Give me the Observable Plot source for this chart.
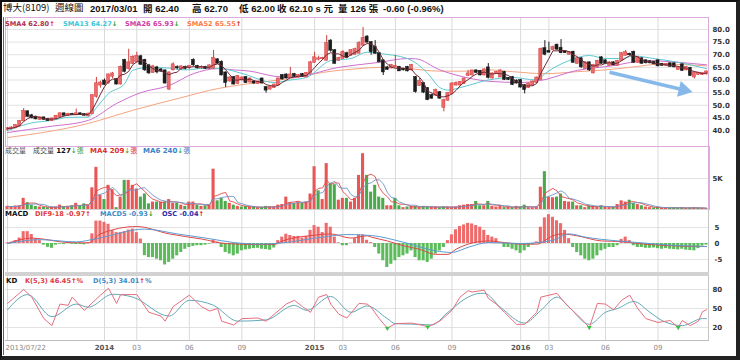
<!DOCTYPE html>
<html><head><meta charset="utf-8">
<script src="https://cdn.jsdelivr.net/npm/d3@7"></script>
<script src="https://cdn.jsdelivr.net/npm/@observablehq/plot@0.6"></script>
<style>
html,body{margin:0;padding:0;background:#fff;}
#wrap{position:relative;width:740px;height:360px;overflow:hidden;background:#fff;font-family:"DejaVu Sans","Noto Sans CJK TC",sans-serif;}
.t{position:absolute;white-space:nowrap;line-height:1;}
.b{position:absolute;box-sizing:border-box;}
</style></head><body><div id="wrap"></div><script>
// ---------- data (weekly, index 0 = 2013/07/22) ----------
const open = [40.3,40.8,41.0,41.8,43.8,47.4,45.8,45.2,44.4,45.0,
44.4,43.9,44.6,45.4,46.6,46.0,46.4,46.2,46.6,46.3,
45.8,46.6,53.5,58.0,59.6,58.8,61.5,60.2,58.4,67.8,
64.5,66.6,67.2,69.2,67.8,65.6,63.0,64.8,64.0,63.6,
56.4,64.0,65.0,64.4,65.0,64.8,67.8,65.4,64.8,65.0,
64.6,64.6,68.0,67.0,62.8,59.6,61.0,58.6,60.0,61.0,
59.2,59.2,58.6,60.4,57.0,56.4,57.0,58.0,61.8,62.0,
61.0,62.2,61.2,62.2,61.2,62.6,67.0,68.2,68.4,67.8,
75.4,71.6,67.8,68.6,70.4,69.8,70.2,70.6,73.8,77.0,
74.8,73.0,70.4,67.6,64.8,64.8,65.2,65.0,64.2,65.0,
64.0,61.0,57.8,58.6,56.6,53.8,54.0,55.0,49.2,52.0,
54.6,58.0,58.0,58.6,61.8,62.0,63.6,63.4,62.0,64.8,
60.8,62.6,61.2,63.0,60.6,61.0,59.6,59.8,57.8,57.0,
58.0,59.0,60.2,72.4,71.4,72.0,73.8,72.6,71.2,70.2,
71.0,66.6,68.4,64.6,66.8,62.8,65.2,68.8,67.6,65.8,
66.8,65.8,67.8,69.8,70.2,71.0,67.0,68.4,67.6,67.2,
67.0,67.6,66.2,65.8,66.4,66.4,64.2,66.0,64.0,64.6,
61.2,62.2,62.2,62.4];
const high = [41.2,41.5,42.3,44.0,48.7,47.8,46.4,45.6,45.4,45.3,
44.8,44.8,46.0,47.0,46.9,46.8,46.8,48.5,47.0,46.7,
46.8,54.2,61.0,59.5,60.4,62.4,63.0,60.6,65.5,68.2,
72.2,69.6,71.0,69.8,68.2,66.2,65.8,65.4,64.5,64.0,
63.2,66.8,65.6,65.6,65.5,65.6,68.4,65.8,65.6,65.4,
66.0,71.7,68.4,67.6,63.2,61.2,61.4,61.8,61.2,61.4,
60.8,59.8,59.6,60.8,57.4,57.6,58.4,60.8,62.2,62.4,
65.0,62.6,62.2,62.6,63.0,67.4,71.0,69.4,69.0,77.6,
76.0,72.0,69.0,71.6,71.0,72.0,72.6,75.2,80.8,77.6,
75.2,75.6,70.8,68.0,65.4,66.2,69.8,65.4,64.6,65.4,
66.2,61.4,60.6,59.0,57.0,54.4,56.4,55.4,52.4,55.0,
59.0,59.2,59.4,60.8,63.8,63.8,64.0,63.8,64.4,66.5,
62.8,63.4,64.0,63.4,61.0,61.4,60.0,60.2,58.2,58.8,
59.6,61.2,72.6,75.6,75.0,73.4,74.2,76.0,71.6,71.2,
71.4,68.8,68.8,67.2,67.2,66.2,67.8,69.2,68.0,67.2,
67.2,67.8,70.8,71.7,70.6,71.4,69.2,68.8,68.0,67.6,
67.4,68.0,66.6,66.6,66.8,66.8,65.2,66.4,65.4,65.0,
63.2,63.0,63.0,63.6];
const low = [39.8,40.2,40.8,41.5,43.5,45.2,44.6,44.2,44.0,44.0,
43.6,43.6,44.3,45.2,45.7,45.6,45.9,45.9,46.0,45.8,
45.4,46.4,52.8,56.8,57.8,58.4,60.5,58.0,58.0,62.8,
64.0,66.2,66.8,65.8,63.4,62.2,62.6,62.4,63.0,58.4,
55.8,63.6,64.0,63.8,64.0,64.2,65.4,64.4,64.2,64.2,
64.2,64.2,66.2,61.6,57.0,59.2,58.0,58.2,59.6,58.6,
58.8,58.2,58.2,58.4,54.8,56.0,56.8,57.8,60.0,60.4,
60.8,61.0,60.8,61.0,61.0,62.4,66.6,67.6,67.8,67.6,
71.0,66.2,67.4,68.2,68.6,69.4,69.8,70.4,73.4,74.6,
69.8,70.2,66.8,61.8,63.8,64.4,64.8,63.4,63.6,63.2,
63.6,54.8,57.4,54.6,51.8,52.4,53.6,52.4,47.4,51.6,
54.2,57.6,57.6,58.2,61.4,61.6,62.6,61.6,61.6,60.4,
60.4,62.4,61.0,59.8,59.8,57.8,58.4,56.8,54.5,56.6,
57.6,58.6,60.0,69.6,70.8,71.6,71.8,70.4,70.6,69.8,
66.6,66.2,64.6,64.2,63.4,62.4,64.8,66.2,66.2,65.4,
65.6,65.4,67.4,69.4,69.6,66.6,66.6,66.2,66.4,66.4,
66.0,65.2,65.4,65.4,65.0,64.8,63.8,63.4,63.6,61.4,
60.4,61.8,61.8,62.0];
const close = [40.8,41.0,42.0,43.6,47.6,45.6,45.0,44.6,45.0,44.4,
43.9,44.6,45.6,46.6,46.0,46.4,46.2,46.6,46.3,46.0,
46.5,53.8,58.5,58.8,58.2,62.0,62.4,58.4,65.0,63.4,
66.8,69.0,69.4,66.2,64.0,62.8,65.2,63.2,63.5,58.8,
62.8,66.0,64.8,65.2,64.6,65.4,66.0,64.8,65.0,64.6,
65.6,68.6,66.6,62.0,59.0,60.8,58.4,61.4,60.8,59.0,
60.4,58.8,59.2,58.8,56.0,57.2,58.0,60.4,60.4,60.8,
62.0,61.4,61.8,61.4,62.6,66.8,68.8,68.4,68.6,74.4,
71.8,66.6,68.6,71.0,69.0,71.6,72.0,74.4,76.4,75.0,
71.2,70.6,67.2,63.2,64.2,65.8,65.4,63.6,64.0,63.6,
65.8,55.4,59.4,55.2,52.2,52.8,55.8,52.8,51.8,54.6,
58.4,58.6,59.0,60.4,62.4,63.6,63.0,62.0,64.0,61.0,
62.4,63.0,63.6,60.2,60.2,58.2,58.8,57.2,56.2,58.4,
59.2,60.8,72.2,70.2,71.0,72.8,72.2,70.8,70.8,71.0,
67.0,68.4,65.2,66.8,64.0,65.8,67.4,66.6,66.6,66.8,
66.0,67.4,70.4,70.8,70.0,67.0,68.8,66.6,66.8,66.8,
66.4,65.6,65.8,66.2,65.4,65.2,64.8,63.8,65.0,61.8,
62.8,62.6,62.6,63.2];
const volume = [500,450,550,600,1800,1100,700,500,400,350,
300,350,400,700,450,500,600,1000,500,900,
700,3500,6800,2300,1600,3900,3200,300,2000,4700,
4700,3900,3300,2000,2500,900,1200,1200,1200,1200,
1600,1000,1000,700,500,1200,1200,700,500,600,
700,6500,1400,1800,1300,1000,700,500,400,500,
400,400,300,350,500,450,400,700,800,2000,
1100,1000,1200,1000,1200,2500,6900,3000,1600,7400,
4200,4000,1500,1800,1800,1200,1800,5500,9000,5500,
2800,3900,2000,1800,600,600,1800,600,300,400,
500,500,400,500,400,350,400,350,450,400,
350,400,600,700,800,800,1300,600,600,1300,
500,400,600,300,400,300,500,400,700,300,
300,400,3600,6100,2000,1900,2000,2500,1300,1200,
1200,600,600,300,600,500,500,600,350,300,
350,800,1400,1200,1500,1000,800,600,400,300,
250,350,200,300,250,300,250,300,200,250,
300,250,200,127];
const osc = [0.2,0.4,0.9,1.7,3.7,3.7,2.8,1.4,0.9,-0.5,
-1.2,-1.5,-0.5,-0.2,-0.3,0.2,-0.2,-0.3,-0.3,-0.4,
0.3,3.0,7.0,7.0,6.6,6.0,4.0,3.4,3.4,3.7,
4.2,4.5,3.4,1.4,-3.8,-4.4,-4.4,-4.9,-5.4,-6.7,
-5.9,-4.9,-3.85,-2.8,-1.8,-1.25,-0.9,-0.7,-0.7,-0.5,
-0.2,1.0,0.4,-1.25,-2.8,-3.3,-3.85,-3.3,-2.3,-2.0,
-1.8,-1.6,-1.5,-1.8,-1.9,-2.1,-1.4,0.9,2.0,2.9,
2.5,2.2,2.2,1.7,2.2,4.1,5.6,5.1,3.4,6.3,
5.1,2.0,0.2,-0.7,-0.7,0.1,1.5,2.7,2.7,1.0,
0.3,-1.25,-3.3,-5.4,-7.5,-6.5,-5.4,-4.4,-3.85,-3.3,
-2.3,-4.4,-5.4,-5.4,-5.9,-4.9,-3.3,-2.3,-1.25,0.9,
2.7,4.3,5.3,5.8,6.3,6.1,5.6,5.1,4.1,2.5,
2.0,1.5,0.3,-1.25,-1.25,-1.8,-2.3,-3.1,-2.3,-1.25,
-0.4,0.5,5.1,8.0,9.0,8.2,7.1,6.2,4.1,1.5,
-1.25,-2.8,-3.85,-4.9,-5.4,-4.9,-3.85,-2.3,-1.8,-1.25,
-1.25,-0.7,1.3,2.0,0.9,-0.7,-1.25,-1.25,-1.5,-1.5,
-1.4,-1.6,-1.8,-1.6,-1.8,-1.9,-2.0,-1.8,-2.1,-2.2,
-2.3,-1.6,-0.8,-0.5];

// moving-average lines (week index, value)
const sma13Idx = [0,6,11,15,20,22,25,29,31,35,40,44,49,53,58,66,70,74,80,85,89,92,99,104,107,109,113,119,125,131,133,139,144,148,152,155,160,166,173];
const sma13Val = [40.0,43.0,44.0,45.2,45.3,49,54.6,58.6,63.8,65,64.7,64,64.7,64.5,62.6,59,60,61,67.7,68.5,71,70.5,68.5,62.6,57,56,57.4,60,61,60,62.5,67.7,69.7,68.5,68.5,69.5,68.5,67,64.5];
const sma26Idx = [0,10,20,27,33,40,46,52,56,60,66,70,82,92,99,101,107,115,119,127,131,141,150,158,166,173];
const sma26Val = [39.2,41.5,44,50.7,55,57.8,62.5,64.5,64,63.5,61.5,61,65,67,68.5,68.4,64,60.5,59.5,59,59.5,63.8,65.7,67.7,67,66];
const sma52Idx = [0,20,31,43,52,60,70,78,87,92,99,107,115,119,125,133,141,148,154,162,173];
const sma52Val = [37.2,42.8,48,53,56.6,58.6,60.6,63,64.5,65,64.5,63.5,63.5,64,63.3,62.5,63.3,64,65,66.3,65.6];
const difIdx = [0,6,15,20,23,32,40,48,54,61,66,68,76,80,85,89,90,94,98,102,106,109,111,114,119,123,127,131,135,137,141,147,152,156,164,173];
const difVal = [0,1.7,0.3,0.2,3.0,5.3,3.0,1.4,0,-0.3,-0.3,0.8,2.6,3.0,1.7,2.4,2.0,0.8,-0.7,-1.8,-3.4,-3.4,-1.8,-0.2,0.8,0.3,-0.2,-0.2,2.4,3.0,2.4,0.8,0.6,0,-0.7,-0.97];
const macdIdx = [0,8,17,22,34,42,50,56,63,68,78,84,90,98,106,110,114,119,127,135,139,143,151,156,164,173];
const macdVal = [0,1.2,0.5,1.5,4.5,3.0,1.5,0.3,-0.2,0.2,2.0,2.8,2.5,0.4,-2.3,-2.8,-1.2,0.3,0,1.0,3.0,2.0,0.8,0.3,-0.5,-0.93];
const kIdx = [0,4,6,9,11,13,15,16,19,23,25,27,28,32,35,38,39,41,45,48,50,52,53,56,58,62,64,69,71,73,75,77,79,80,82,84,87,89,90,92,94,96,100,103,104,107,110,112,114,115,117,118,119,121,123,126,128,131,132,136,137,139,142,144,146,148,150,152,154,156,158,161,164,166,167,169,171,172,173];
const kVal = [58,80,68,34,23,57,55,68,47,71,82,58,72,72,44,38,30,53,71,53,46,50,30,24,34,35,30,57,63,53,44,68,72,57,41,35,58,57,52,34,19,26,27,23,21,30,47,68,78,76,78,79,66,57,44,25,25,44,68,74,66,52,34,20,58,57,48,63,71,50,34,28,31,20,31,23,30,45,48];
const dIdx = [0,5,11,17,20,26,31,40,45,51,57,64,71,74,80,85,89,94,96,102,105,109,114,117,118,122,128,132,136,139,144,148,151,155,159,162,167,172,173];
const dVal = [48,72,37,57,52,72.5,68,38,63,55,30,32,55,47,69,44,54,34,26,25,24,44,68,74,74,52,27,47,68,52,25,44,50,61,44,31,23,34,34];
const kdSignalIdx = [94,104,144,166];
const kdSignalVal = [19,21,20,20];

// axis ticks
const timeTickIdx = [0,24,32,45,58,76,83,96,110,127,134,148,161];
const timeTickLab = ["2013/07/22","2014","03","06","09","2015","03","06","09","2016","03","06","09"];
const priceTicks = [40,45,50,55,60,65,70,75,80];
const volTicks = [5000];
const macdTicks = [-5,0,5];
const kdTicks = [20,50,80];

// annotation arrow (week index, price)
const annoFrom = [149, 63.1];
const annoTo = [168.6, 55.6];

// header + legends
const headerItems = [
  ["博大(8109)", 3, 400], ["週線圖", 55, 400], ["2017/03/01", 90, 700], ["開 62.40", 143, 700],
  ["高 62.70", 192, 700], ["低 62.00", 239, 700], ["收 62.10 s 元", 277, 700], ["量 126 張", 338, 700],
  ["-0.60 (-0.96%)", 383, 700]
];
const priceLegend = [["SMA4 62.80", "↑", "#b0304f", 5], ["SMA13 64.27", "↓", "#3cc6d6", 63], ["SMA26 65.93", "↓", "#d03aa8", 125], ["SMA52 65.55", "↑", "#ff7a45", 187]];

// ---------- build ----------
const N = close.length;
const rows = d3.range(N).map(i => ({i, o: open[i], h: high[i], l: low[i], c: close[i], v: volume[i], osc: osc[i],
  up: close[i] >= open[i], vup: i === 0 ? true : close[i] >= close[i-1]}));
const pts = (I, V) => I.map((x, j) => ({x, y: V[j]}));

const wrap = document.getElementById("wrap");
const RED = "#ee6a6a", REDS = "#cf3f3f", BLK = "#1c1c1c", GRID = "#e2e2e2", VGRID = "#dadada";
const common = {
  width: 740, marginLeft: 5, marginRight: 32,
  x: {domain: [-0.5, N - 0.5], axis: null},
  color: {type: "identity"},
  style: {fontFamily: "DejaVu Sans, sans-serif", fontSize: "7px", fontWeight: "bold", background: "transparent", overflow: "visible", color: "#333"}
};
function place(svg, top) { svg.style.position = "absolute"; svg.style.left = "0px"; svg.style.top = top + "px"; wrap.appendChild(svg); }
const barX1 = d => d.i - 0.38, barX2 = d => d.i + 0.38;
const yAxis = (ticks, fmt, pad) => Plot.axisY({anchor: "right", label: null, ticks, tickSize: 0, tickPadding: pad, tickFormat: fmt});

// arrow geometry in pixel space (for the filled head orientation)
const pxPerX = 703 / N, pxPerY = 101 / 40;
const arrowAngle = Math.atan2((annoFrom[1] - annoTo[1]) * pxPerY, (annoTo[0] - annoFrom[0]) * pxPerX) * 180 / Math.PI;
const shaftEnd = [annoTo[0] - 2.2, annoTo[1] + 2.2 * (annoFrom[1] - annoTo[1]) / (annoTo[0] - annoFrom[0])];
const headPos = [annoTo[0] - 1.3, annoTo[1] + 1.3 * (annoFrom[1] - annoTo[1]) / (annoTo[0] - annoFrom[0])];

// price
place(Plot.plot({...common, height: 130, marginTop: 1, marginBottom: 1,
  y: {domain: [40, 80], range: [113, 12]},
  marks: [
    Plot.ruleY(priceTicks, {stroke: GRID}),
    Plot.ruleX(timeTickIdx, {stroke: VGRID}),
    Plot.line(pts(sma52Idx, sma52Val), {x: "x", y: "y", stroke: "#f3a582", strokeWidth: 1, curve: "monotone-x"}),
    Plot.line(pts(sma26Idx, sma26Val), {x: "x", y: "y", stroke: "#cf6fcf", strokeWidth: 1, curve: "monotone-x"}),
    Plot.line(pts(sma13Idx, sma13Val), {x: "x", y: "y", stroke: "#5cc9d2", strokeWidth: 1, curve: "monotone-x"}),
    Plot.ruleX(rows, {x: "i", y1: "l", y2: "h", stroke: d => d.up ? REDS : BLK, strokeWidth: 1}),
    Plot.rect(rows, {x1: barX1, x2: barX2, y1: d => Math.min(d.o, d.c), y2: d => Math.max(d.o, d.c),
      fill: d => d.up ? RED : BLK, stroke: d => d.up ? REDS : BLK, strokeWidth: 0.5, insetTop: -0.5, insetBottom: -0.5}),
    Plot.lineY(rows, Plot.windowY({k: 4, anchor: "end"}, {x: "i", y: "c", stroke: "#6e2a35", strokeWidth: 1})),
    Plot.link([{x1: annoFrom[0], y1: annoFrom[1], x2: shaftEnd[0], y2: shaftEnd[1]}],
      {x1: "x1", y1: "y1", x2: "x2", y2: "y2", stroke: "#86b8ea", strokeWidth: 3.5}),
    Plot.dot([{x: headPos[0], y: headPos[1]}], {x: "x", y: "y", symbol: "triangle", r: 6, fill: "#86b8ea", rotate: 90 + arrowAngle}),
    yAxis(priceTicks, d => d.toFixed(1), 4)
  ]}), 17);

// volume
place(Plot.plot({...common, height: 63, marginTop: 0, marginBottom: 1,
  y: {domain: [0, 5000], range: [62, 31]},
  marks: [
    Plot.ruleY(volTicks, {stroke: GRID}),
    Plot.ruleX(timeTickIdx, {stroke: VGRID}),
    Plot.rect(rows, {x1: barX1, x2: barX2, y1: 0, y2: "v", fill: d => d.vup ? "#e85656" : "#4aa94a"}),
    Plot.lineY(rows, Plot.windowY({k: 4, anchor: "end"}, {x: "i", y: "v", stroke: "#e24a4a", strokeWidth: 0.9})),
    Plot.lineY(rows, Plot.windowY({k: 6, anchor: "end"}, {x: "i", y: "v", stroke: "#6f95c8", strokeWidth: 0.9})),
    yAxis(volTicks, d => (d / 1000) + "K", 4)
  ]}), 147);

// MACD
place(Plot.plot({...common, height: 63, marginTop: 0, marginBottom: 1,
  y: {domain: [-5, 5], range: [49, 17]},
  marks: [
    Plot.ruleY(macdTicks, {stroke: GRID}),
    Plot.ruleX(timeTickIdx, {stroke: VGRID}),
    Plot.rect(rows, {x1: barX1, x2: barX2, y1: 0, y2: "osc", fill: d => d.osc >= 0 ? "#ef6a6a" : "#5cbc5c"}),
    Plot.line(pts(difIdx, difVal), {x: "x", y: "y", stroke: "#e04848", strokeWidth: 1, curve: "monotone-x"}),
    Plot.line(pts(macdIdx, macdVal), {x: "x", y: "y", stroke: "#5d9bd3", strokeWidth: 1, curve: "monotone-x"}),
    yAxis(macdTicks, d => String(d), 6)
  ]}), 210);

// KD
const labels = timeTickIdx.map((x, j) => ({x, t: timeTickLab[j], year: /^\d{4}$/.test(timeTickLab[j])}));
place(Plot.plot({...common, height: 87, marginTop: 3, marginBottom: 20,
  y: {domain: [20, 80], range: [54, 16]},
  marks: [
    Plot.ruleY(kdTicks, {stroke: GRID}),
    Plot.ruleX(timeTickIdx, {stroke: VGRID}),
    Plot.line(pts(dIdx, dVal), {x: "x", y: "y", stroke: "#62a9b8", strokeWidth: 1, curve: "monotone-x"}),
    Plot.line(pts(kIdx, kVal), {x: "x", y: "y", stroke: "#e66f80", strokeWidth: 1}),
    Plot.dot(pts(kdSignalIdx, kdSignalVal), {x: "x", y: "y", symbol: "triangle", r: 1.8, fill: "#3fbf3f", rotate: 180}),
    yAxis(kdTicks, d => String(d), 4),
    Plot.text(labels.filter(d => d.x === 0), {x: "x", text: "t", frameAnchor: "bottom", dy: 9, dx: -2, textAnchor: "start", fill: "#8a8a8a", fontWeight: "normal"}),
    Plot.text(labels.filter(d => d.x !== 0 && !d.year), {x: "x", text: "t", frameAnchor: "bottom", dy: 9, fill: "#8a8a8a", fontWeight: "normal"}),
    Plot.text(labels.filter(d => d.year), {x: "x", text: "t", frameAnchor: "bottom", dy: 9, fill: "#555"})
  ]}), 273);

// frames
function box(css) { const d = document.createElement("div"); d.className = "b"; d.style.cssText = css; wrap.appendChild(d); }
box("left:5px;top:17px;width:704px;height:130px;border:1.5px solid #dcaadc;");
box("left:708px;top:146px;width:1.5px;height:64px;background:#dcaadc;");
box("left:5px;top:209px;width:704px;height:1px;background:#d0d0d0;");
box("left:708px;top:210px;width:1px;height:131px;background:#c4c4c4;");
box("left:5px;top:272px;width:704px;height:4px;background:#d2d2d2;");
box("left:5px;top:340px;width:704px;height:1px;background:#bdbdbd;");
box("left:3px;top:17px;width:1px;height:338px;background:#b04040;");
box("left:0;top:0;width:740px;height:360px;border:2px solid #111;border-right:4px solid #222;border-bottom:4px solid #222;");

// text
function txt(x, y, html, css) { const d = document.createElement("div"); d.className = "t"; d.style.left = x + "px"; d.style.top = y + "px"; d.style.cssText += css || ""; d.innerHTML = html; wrap.appendChild(d); }
const UP = '<span style="color:#e02020">↑</span>', DN = '<span style="color:#1e9e1e">↓</span>';
headerItems.forEach(([s, x, w]) => txt(x, 4, s, w === 400
  ? 'font-size:9.5px;font-weight:400;color:#111;font-family:"Noto Sans CJK TC",sans-serif;line-height:9px;top:3px;'
  : 'font-size:9.5px;font-weight:700;color:#111;font-family:"Liberation Sans","Noto Sans CJK TC",sans-serif;'));
priceLegend.forEach(([s, a, c, x]) => txt(x, 20.5, s + (a === "↑" ? UP : DN), `font-size:6.6px;font-weight:bold;color:${c};`));
txt(5, 148, "成交量", "font-size:7px;color:#555;");
txt(33, 148, '成交量 <b style="color:#111">127</b>' + DN + '<span style="color:#4a9a4a">張</span>', "font-size:7px;color:#444;");
txt(90, 148, '<b>MA4 209</b>' + DN + '張', "font-size:7px;color:#e03030;");
txt(143, 148, '<b>MA6 240</b>' + DN + '張', "font-size:7px;color:#3b7fc4;");
txt(5, 211, "MACD", "font-size:7px;font-weight:bold;color:#111;");
txt(35, 211, "DIF9-18 -0.97" + UP, "font-size:6.6px;font-weight:bold;color:#e03838;");
txt(100, 211, "MACD5 -0.93" + DN, "font-size:6.6px;font-weight:bold;color:#3d8ac8;");
txt(162, 211, "OSC -0.04" + UP, "font-size:6.6px;font-weight:bold;color:#2a2aa8;");
txt(6, 278, "KD", "font-size:7px;font-weight:bold;color:#111;");
txt(25, 278, "K(5,3) 46.45" + UP + "%", "font-size:6.6px;font-weight:bold;color:#e03848;");
txt(93, 278, "D(5,3) 34.01" + UP + "%", "font-size:6.6px;font-weight:bold;color:#3d8ac8;");
</script></body></html>
